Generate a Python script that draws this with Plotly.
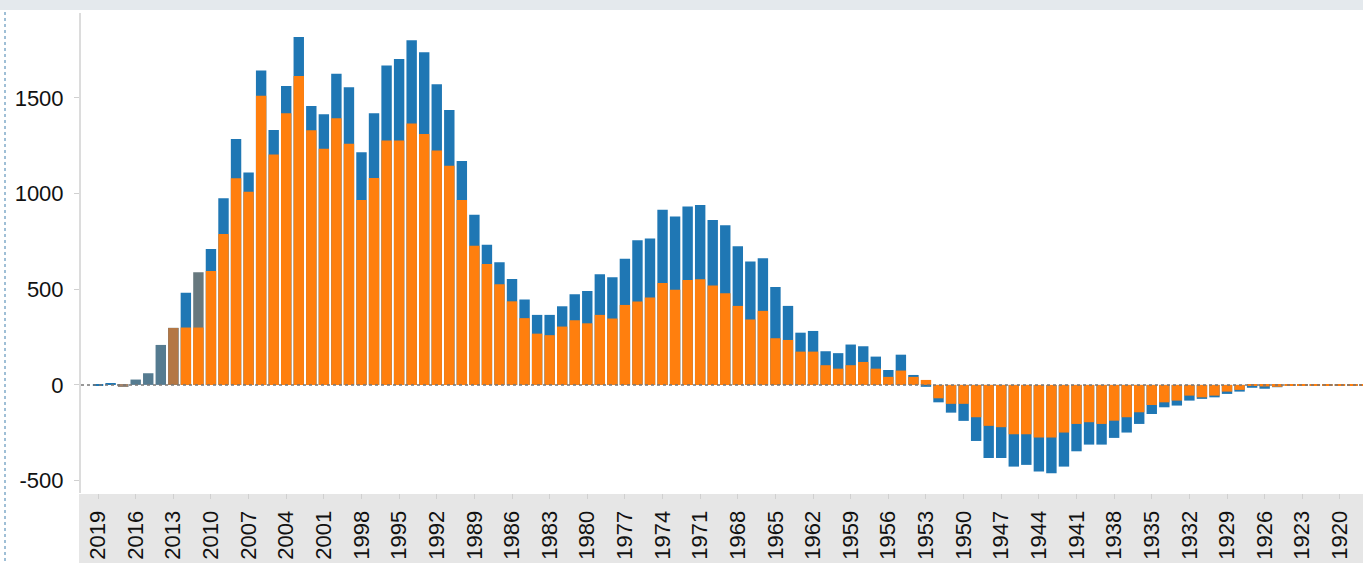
import plotly.graph_objects as go

# years shown, newest first (axis runs right-to-left in time)
years = [2019, 2018, 2017, 2016, 2015, 2014, 2013, 2012, 2011, 2010,
         2009, 2008, 2007, 2006, 2005, 2004, 2003, 2002, 2001, 2000,
         1999, 1998, 1997, 1996, 1995, 1994, 1993, 1992, 1991, 1990,
         1989, 1988, 1987, 1986, 1985, 1984, 1983, 1982, 1981, 1980,
         1979, 1978, 1977, 1976, 1975, 1974, 1973, 1972, 1971, 1970,
         1969, 1968, 1967, 1966, 1965, 1964, 1963, 1962, 1961, 1960,
         1959, 1958, 1957, 1956, 1955, 1954, 1953, 1952, 1951, 1950,
         1949, 1948, 1947, 1946, 1945, 1944, 1943, 1942, 1941, 1940,
         1939, 1938, 1937, 1936, 1935, 1934, 1933, 1932, 1931, 1930,
         1929, 1928, 1927, 1926, 1925, 1924, 1923, 1922, 1921, 1920,
         1919, 1918]

# total (blue, drawn behind)
total = [-5, 5, -10, 28, 61, 209, 298, 482, 589, 711,
         976, 1286, 1110, 1643, 1333, 1563, 1819, 1458, 1415, 1626,
         1556, 1216, 1420, 1669, 1704, 1802, 1739, 1572, 1437, 1171,
         889, 732, 641, 554, 446, 366, 366, 411, 474, 491,
         579, 563, 659, 756, 765, 916, 880, 932, 941, 862,
         835, 725, 645, 662, 512, 413, 273, 282, 176, 166,
         211, 202, 148, 78, 158, 52, -10, -91, -145, -188,
         -293, -382, -382, -427, -418, -453, -462, -427, -347, -312,
         -312, -277, -249, -204, -152, -117, -108, -82, -73, -65,
         -47, -35, -15, -20, -12, -4, -4, -3, -3, -4,
         -3, -4]

# part (orange, drawn in front)
part = [0, 0, -10, 0, 0, 0, 298, 300, 300, 596,
        789, 1080, 1010, 1511, 1204, 1420, 1615, 1331, 1234, 1394,
        1260, 967, 1082, 1277, 1277, 1366, 1312, 1225, 1145, 967,
        728, 632, 526, 437, 349, 268, 260, 305, 338, 322,
        366, 347, 418, 436, 457, 533, 497, 549, 552, 519,
        479, 413, 342, 387, 244, 235, 174, 174, 103, 85,
        103, 120, 85, 42, 75, 42, 26, -70, -99, -99,
        -169, -214, -221, -258, -258, -275, -275, -249, -204, -195,
        -204, -187, -169, -143, -105, -91, -82, -56, -65, -56,
        -35, -26, -5, -8, -10, -1, -1, -1, -2, -4,
        -3, -1]

y_ticks = [-500, 0, 500, 1000, 1500]

BLUE = "#1f77b4"
ORANGE = "#ff7f0e"
# a few recent bars appear greyed out in the reference
muted_blue = {2016: "#557b90", 2015: "#557b90", 2014: "#557b90", 2011: "#67787e"}
muted_orange = {2017: "#a5846a", 2013: "#b47744"}

blue_colors = [muted_blue.get(y, BLUE) for y in years]
orange_colors = [muted_orange.get(y, ORANGE) for y in years]

fig = go.Figure()
fig.add_trace(go.Bar(x=years, y=total, marker=dict(color=blue_colors, line=dict(width=0)),
                     name="total", showlegend=False))
fig.add_trace(go.Bar(x=years, y=part, marker=dict(color=orange_colors, line=dict(width=0)),
                     name="part", showlegend=False))

plot_h = 563 - 13 - 70
plot_w = 1363 - 81

# grey band behind the year labels
fig.add_shape(type="rect", xref="paper", yref="paper", x0=-2 / plot_w, x1=1,
              y0=-1 / plot_h, y1=-80 / plot_h, fillcolor="#e6e6e6", line_width=0, layer="below")
# header strip of the surrounding page
fig.add_shape(type="rect", xref="paper", yref="paper", x0=-90 / plot_w, x1=1,
              y0=1 + 3 / plot_h, y1=1 + 20 / plot_h, fillcolor="#e4e9ed", line_width=0, layer="below")
# dotted frame edge on the left
fig.add_shape(type="line", xref="paper", yref="paper", x0=-76 / plot_w, x1=-76 / plot_w,
              y0=-80 / plot_h, y1=1 + 2 / plot_h, line=dict(color="#9fbfd6", width=2, dash="dot"))

fig.add_hline(y=0, line=dict(color="#777777", width=1.5, dash="dot"))

fig.update_layout(
    width=1363, height=563,
    margin=dict(l=81, r=0, t=13, b=70, autoexpand=False),
    barmode="overlay", bargap=0.17,
    plot_bgcolor="white", paper_bgcolor="white",
    font=dict(family="Liberation Sans, Arial, sans-serif", size=22, color="#111111"),
)
fig.update_xaxes(range=[2020.36, 1918.16], tickmode="linear", tick0=2019, dtick=3,
                 tickangle=-90, showgrid=False, zeroline=False, showline=False, automargin=False,
                 ticks="outside", ticklen=5, tickcolor="#d0d0d0", ticklabelstandoff=3)
fig.update_yaxes(range=[-565, 1944], tickvals=y_ticks, ticktext=[str(v) for v in y_ticks],
                 showgrid=False, zeroline=False, showline=True, linecolor="#dcdcdc", linewidth=2,
                 automargin=False,
                 ticks="outside", ticklen=5, tickcolor="#d0d0d0", ticklabelstandoff=6)

# drop the default page margin so the figure sits at the window's top-left corner
fig.write_html("out.html", config={"displayModeBar": False},
               post_script="document.body.style.margin='0';")
